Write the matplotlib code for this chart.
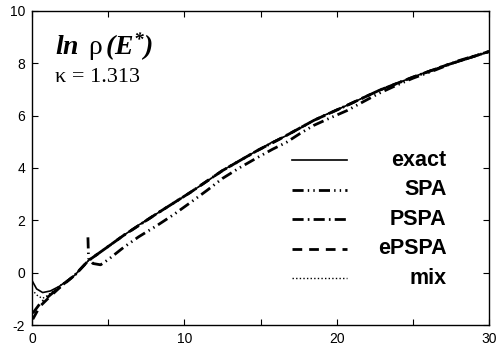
import numpy as np
import matplotlib.pyplot as plt

plt.rcParams['axes.unicode_minus'] = False
plt.rcParams['mathtext.fontset'] = 'custom'
plt.rcParams['mathtext.rm'] = 'Liberation Serif'
plt.rcParams['mathtext.it'] = 'Liberation Serif:italic'
plt.rcParams['mathtext.bf'] = 'Liberation Serif:bold'
plt.rcParams['mathtext.bfit'] = 'Liberation Serif:italic:bold'

# values
exact_x = [0.0, 0.3, 0.7, 1.2, 1.8, 2.8, 3.7, 5.0, 6.0, 7.0, 8.2, 9.2, 10.4, 11.5, 12.5, 13.6,
           14.8, 15.8, 16.5, 17.3, 18.5, 19.5, 20.7, 21.8, 22.8, 24.0, 25.0, 26.1, 27.2, 28.5, 30.0]
exact_y = [-0.3, -0.62, -0.76, -0.7, -0.52, -0.1, 0.46, 1.0, 1.42, 1.82, 2.26, 2.62, 3.07, 3.5, 3.9, 4.28,
           4.67, 5.0, 5.18, 5.42, 5.82, 6.1, 6.4, 6.7, 6.97, 7.25, 7.47, 7.72, 7.93, 8.15, 8.45]

spa_x = [3.67, 3.71, 4.0, 4.5, 5.0, 6.0, 7.0, 8.2, 9.3, 10.4, 11.5, 12.5, 13.6, 14.8, 15.8,
         16.7, 17.6, 18.5, 19.6, 20.7, 21.8, 22.8, 24.0, 25.0, 26.5, 28.0, 30.0]
spa_y = [1.35, 0.55, 0.35, 0.3, 0.5, 0.96, 1.37, 1.8, 2.22, 2.68, 3.15, 3.6, 4.0, 4.4, 4.72,
         4.98, 5.32, 5.63, 5.92, 6.2, 6.55, 6.86, 7.18, 7.43, 7.75, 8.1, 8.45]

pspa_x = [0.05, 0.5, 1.2, 1.8, 2.8, 3.7, 5.0, 6.0, 8.2, 10.4, 12.5, 14.8, 16.5, 18.5, 20.7,
          22.8, 25.0, 27.2, 30.0]
pspa_y = [-1.55, -1.2, -0.85, -0.56, -0.1, 0.46, 1.0, 1.42, 2.26, 3.07, 3.9, 4.67, 5.18, 5.82, 6.4,
          6.97, 7.47, 7.93, 8.45]

epspa_x = [0.05, 0.5, 1.2, 1.8, 2.8, 3.7, 5.0, 6.0, 8.2, 10.4, 12.5, 14.8, 16.5, 18.5, 20.7,
           22.8, 25.0, 27.2, 30.0]
epspa_y = [-1.78, -1.3, -0.9, -0.58, -0.1, 0.46, 1.0, 1.42, 2.26, 3.07, 3.9, 4.67, 5.18, 5.82, 6.4,
           6.97, 7.47, 7.93, 8.45]

mix_x = [0.15, 0.4, 0.7, 1.0, 1.5, 2.0, 2.8, 3.7, 5.0, 6.0, 8.2, 10.4, 12.5, 14.8, 16.5, 18.5,
         20.7, 22.8, 25.0, 27.2, 30.0]
mix_y = [-0.75, -0.9, -0.98, -0.88, -0.65, -0.42, -0.1, 0.46, 1.0, 1.42, 2.26, 3.07, 3.9, 4.67, 5.18, 5.82,
         6.4, 6.97, 7.47, 7.93, 8.45]

names = ['exact', 'SPA', 'PSPA', 'ePSPA', 'mix']
styles = ['-', (0, (4, 1.5, 0.5, 1.5, 0.5, 1.5)), (0, (4, 1.5, 0.6, 1.5)), (0, (3.5, 2.5)), (0, (1, 1.6))]
widths = [1.2, 2.0, 2.0, 2.0, 1.0]

fig = plt.figure(figsize=(4.98, 3.52), dpi=100)
ax = fig.add_axes([0.0643, 0.0767, 0.9177, 0.8921])

xs = [exact_x, spa_x, pspa_x, epspa_x, mix_x]
ys = [exact_y, spa_y, pspa_y, epspa_y, mix_y]
for i in range(len(names)):
    ax.plot(xs[i], ys[i], color='black', linestyle=styles[i], linewidth=widths[i])

ax.set_xlim(0, 30)
ax.set_ylim(-2, 10)
ax.set_xticks(np.arange(0, 31, 5))
ax.set_xticklabels(['0', '', '10', '', '20', '', '30'])
ax.set_yticks(np.arange(-2, 11, 2))
ax.tick_params(direction='in', length=4, width=0.8, top=True, right=True,
               labelsize=10, pad=5)
for t in ax.get_xticklabels() + ax.get_yticklabels():
    t.set_family('Liberation Sans')
for s in ax.spines.values():
    s.set_linewidth(1.0)

# legend drawn by hand so the labels can be right aligned
for i in range(len(names)):
    yy = 0.525 - i * 0.094
    ax.plot([0.569, 0.689], [yy, yy], transform=ax.transAxes, color='black',
            linestyle=styles[i], linewidth=widths[i])
    ax.text(0.907, yy, names[i], transform=ax.transAxes, ha='right', va='center',
            fontsize=15.5, fontweight='bold', family='Liberation Sans')

ax.text(0.05, 0.86, r'$\mathbfit{ln}\ \,\mathrm{\rho}\,\mathbfit{(E^{*})}$', transform=ax.transAxes,
        fontsize=20)
ax.text(0.05, 0.774, '\u03ba = 1.313', transform=ax.transAxes, fontsize=16, family='Liberation Serif')

fig.savefig('out.png', dpi=100)
